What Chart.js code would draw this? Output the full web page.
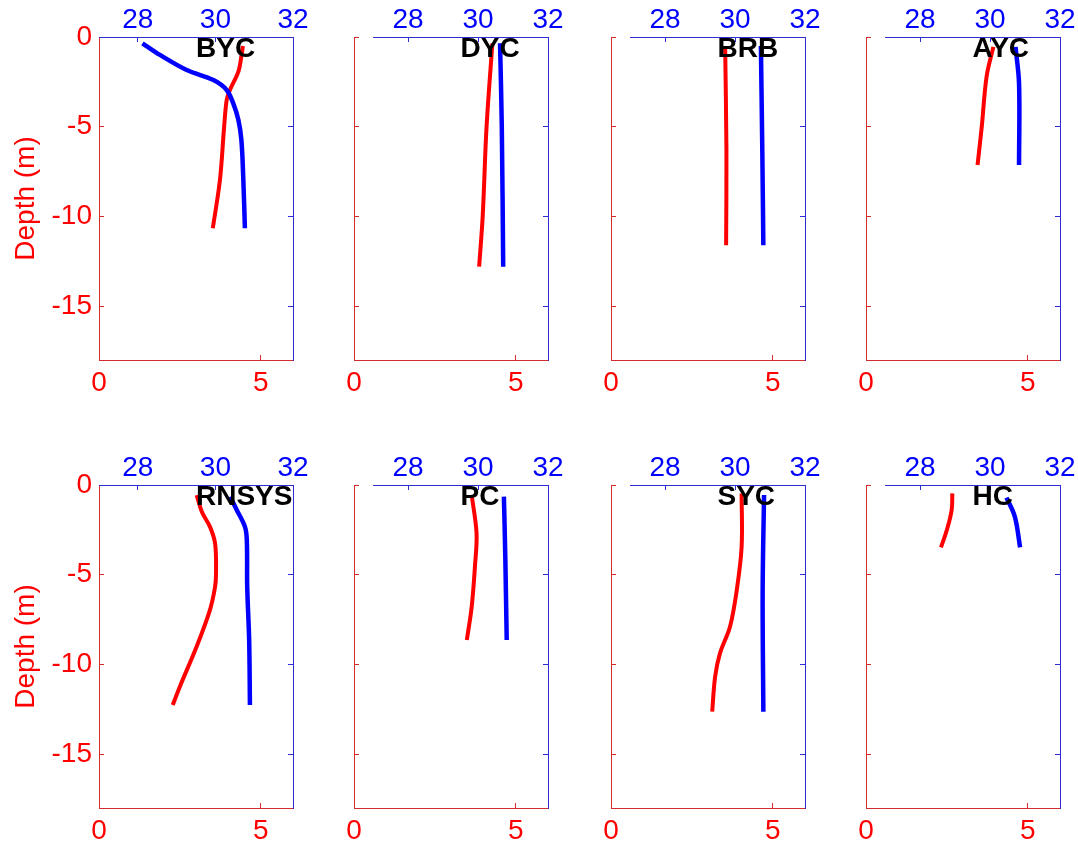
<!DOCTYPE html>
<html><head><meta charset="utf-8">
<script src="https://cdn.jsdelivr.net/npm/chart.js@4.4.1/dist/chart.umd.min.js"></script>
<style>
html,body{margin:0;padding:0;background:#fff;width:1078px;height:847px;overflow:hidden;position:relative}
canvas{position:absolute}
</style>
</head><body>
<script>
// ---------- data ----------
const stationNames = ['BYC','DYC','BRB','AYC','RNSYS','PC','SYC','HC'];
const depthTicks = [0,-5,-10,-15];
const redTicks = [0,5];
const blueTicks = [28,30,32];

const BYC_redDepth  = [-0.5,-1.0,-1.93,-2.95,-3.5,-5.0,-7.97,-10.66];
const BYC_red       = [4.45,4.41,4.31,4.05,3.95,3.87,3.74,3.52];
const BYC_blueDepth = [-0.35,-1.0,-1.84,-2.4,-2.95,-3.7,-4.6,-5.74,-7.97,-10.66];
const BYC_blue      = [28.12,28.57,29.26,29.95,30.29,30.46,30.59,30.67,30.72,30.76];

const DYC_redDepth  = [-0.35,-5.0,-10.0,-12.8];
const DYC_red       = [4.28,4.10,3.98,3.87];
const DYC_blueDepth = [-0.35,-5.0,-12.8];
const DYC_blue      = [30.63,30.68,30.72];

const BRB_redDepth  = [-0.5,-6.3,-11.6];
const BRB_red       = [3.53,3.57,3.56];
const BRB_blueDepth = [-0.5,-6.3,-11.6];
const BRB_blue      = [30.74,30.78,30.81];

const AYC_redDepth  = [-0.55,-2.2,-5.0,-7.13];
const AYC_red       = [3.94,3.73,3.58,3.45];
const AYC_blueDepth = [-0.55,-2.6,-7.13];
const AYC_blue      = [30.73,30.83,30.83];

const RNSYS_redDepth  = [-0.56,-1.49,-2.32,-3.25,-4.92,-5.67,-6.97,-9.0,-11.24,-12.26];
const RNSYS_red       = [3.02,3.18,3.43,3.59,3.62,3.59,3.43,3.02,2.5,2.28];
const RNSYS_blueDepth = [-0.65,-1.39,-2.32,-3.07,-5.67,-8.64,-12.26];
const RNSYS_blue      = [30.38,30.55,30.76,30.81,30.82,30.87,30.89];

const PC_redDepth  = [-0.56,-2.7,-4.55,-6.78,-8.64];
const PC_red       = [3.64,3.79,3.74,3.64,3.49];
const PC_blueDepth = [-0.65,-4.0,-8.64];
const PC_blue      = [30.74,30.78,30.82];

const SYC_redDepth  = [-0.47,-3.44,-5.85,-7.9,-9.38,-10.68,-12.63];
const SYC_red       = [4.04,4.04,3.89,3.68,3.37,3.22,3.13];
const SYC_blueDepth = [-0.56,-6.0,-12.63];
const SYC_blue      = [30.83,30.79,30.81];

const HC_redDepth  = [-0.47,-1.39,-2.51,-3.47];
const HC_red       = [2.67,2.65,2.5,2.32];
const HC_blueDepth = [-0.7,-1.77,-3.47];
const HC_blue      = [30.47,30.71,30.86];

// ---------- layout / style ----------
const RED = '#ff0000', BLUE = '#0000ff';
const AXRED = 'rgb(210,45,45)', AXBLUE = 'rgb(45,45,210)';
const FONT = '"Liberation Sans", Arial, Helvetica, sans-serif';
const plotLefts = [99,354,611,866];
const plotTops = [37,485];
const LEFTW = 99, TOPH = 37, PW = 194, PH = 323, CW = 311, CH = 400;
const TL = -5;

const series = [
  [BYC_redDepth,BYC_red,BYC_blueDepth,BYC_blue],
  [DYC_redDepth,DYC_red,DYC_blueDepth,DYC_blue],
  [BRB_redDepth,BRB_red,BRB_blueDepth,BRB_blue],
  [AYC_redDepth,AYC_red,AYC_blueDepth,AYC_blue],
  [RNSYS_redDepth,RNSYS_red,RNSYS_blueDepth,RNSYS_blue],
  [PC_redDepth,PC_red,PC_blueDepth,PC_blue],
  [SYC_redDepth,SYC_red,SYC_blueDepth,SYC_blue],
  [HC_redDepth,HC_red,HC_blueDepth,HC_blue]
];

const pts = (d, v) => d.map((dd, k) => ({x: v[k], y: dd}));
const setTicks = arr => s => { s.ticks = arr.map(v => ({value: v})); };
const fixW = w => s => { s.width = w; s.paddingLeft = s.paddingRight = s.paddingTop = s.paddingBottom = 0; };
const fixH = h => s => { s.height = h; s.paddingLeft = s.paddingRight = s.paddingTop = s.paddingBottom = 0; };

const panelDecor = {
  id: 'panelDecor',
  afterDatasetsDraw(chart, args, opts) {
    const {ctx, chartArea, scales} = chart;
    const x2 = scales.x2, y = scales.y;
    ctx.save();
    ctx.strokeStyle = AXBLUE; ctx.lineWidth = 1;
    const xs = Math.max(chartArea.left, x2.getPixelForValue(27));
    const yt = Math.round(chartArea.top) + 0.5;
    ctx.beginPath(); ctx.moveTo(xs, yt); ctx.lineTo(chartArea.right, yt); ctx.stroke();
    ctx.fillStyle = '#000';
    ctx.font = 'bold 28px ' + FONT;
    ctx.textAlign = 'left'; ctx.textBaseline = 'alphabetic';
    ctx.fillText(opts.name, x2.getPixelForValue(29.5), y.getPixelForValue(0) + 20);
    ctx.restore();
  }
};

series.forEach((s, i) => {
  const col = i % 4, row = Math.floor(i / 4);
  const cv = document.createElement('canvas');
  cv.width = CW; cv.height = CH;
  cv.style.left = (plotLefts[col] - LEFTW) + 'px';
  cv.style.top = (plotTops[row] - TOPH) + 'px';
  document.body.appendChild(cv);
  const blueMin = col === 0 ? 27 : 32 - PW / 35;
  new Chart(cv, {
    type: 'scatter',
    data: {
      datasets: [
        {data: pts(s[2], s[3]), xAxisID: 'x2', yAxisID: 'y', showLine: true, borderColor: BLUE,
         borderWidth: 4.5, pointRadius: 0, tension: 0.35, borderJoinStyle: 'round'},
        {data: pts(s[0], s[1]), xAxisID: 'x', yAxisID: 'y', showLine: true, borderColor: RED,
         borderWidth: 4, pointRadius: 0, tension: 0.35, borderJoinStyle: 'round'}
      ]
    },
    plugins: [panelDecor],
    options: {
      responsive: false, animation: false, events: [],
      layout: {padding: 0},
      plugins: {legend: {display: false}, tooltip: {enabled: false}, panelDecor: {name: stationNames[i]}},
      scales: {
        x: {type: 'linear', position: 'bottom', min: 0, max: 6,
            afterBuildTicks: setTicks(redTicks), afterFit: fixH(CH - TOPH - PH),
            grid: {display: true, drawOnChartArea: false, drawTicks: true, tickLength: TL, tickColor: AXRED},
            border: {display: true, color: AXRED, width: 1},
            ticks: {color: RED, padding: 11, maxRotation: 0, autoSkip: false, font: {family: FONT, size: 28}}},
        x2: {type: 'linear', position: 'top', axis: 'x', min: blueMin, max: 32,
            afterBuildTicks: setTicks(blueTicks), afterFit: fixH(TOPH),
            grid: {display: true, drawOnChartArea: false, drawTicks: true, tickLength: TL, tickColor: AXBLUE},
            border: {display: false},
            ticks: {color: BLUE, padding: 5, maxRotation: 0, autoSkip: false, font: {family: FONT, size: 28}}},
        y: {type: 'linear', position: 'left', min: -18, max: 0,
            afterBuildTicks: setTicks(depthTicks), afterFit: fixW(LEFTW),
            grid: {display: true, drawOnChartArea: false, drawTicks: true, tickLength: TL, tickColor: AXRED},
            border: {display: true, color: AXRED, width: 1},
            title: {display: col === 0, text: 'Depth (m)', color: RED, padding: {top: 9, bottom: 0}, font: {family: FONT, size: 28}},
            ticks: {display: col === 0, color: RED, padding: 12, autoSkip: false, font: {family: FONT, size: 28}}},
        y2: {type: 'linear', position: 'right', axis: 'y', min: -18, max: 0,
            afterBuildTicks: setTicks(depthTicks), afterFit: fixW(CW - LEFTW - PW),
            grid: {display: true, drawOnChartArea: false, drawTicks: true, tickLength: TL, tickColor: AXBLUE},
            border: {display: true, color: AXBLUE, width: 1},
            ticks: {display: false}}
      }
    }
  });
});
</script>
</body></html>
